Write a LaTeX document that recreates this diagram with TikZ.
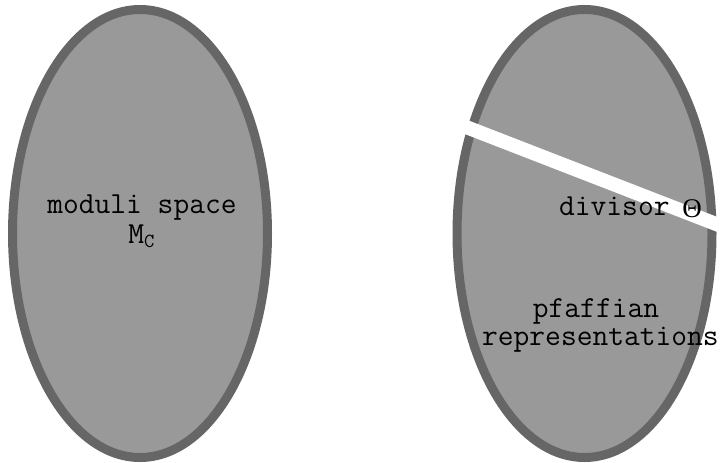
\documentclass[tikz,border=0pt]{standalone}
\usepackage{fontspec}
\newfontfamily\thetafont{Liberation Serif}
\usetikzlibrary{shapes.geometric}
\definecolor{rimgray}{HTML}{666666}
\definecolor{fillgray}{HTML}{999999}
\tikzset{
  blob/.style={ellipse, draw=rimgray, fill=fillgray, line width=9pt,
    minimum width=255pt, minimum height=448pt, inner sep=0pt},
  lbl/.style={font=\ttfamily\fontsize{30.6}{34}\selectfont, text=black, inner sep=0pt},
  band/.style={white, line width=14pt}
}
\begin{document}
\begin{tikzpicture}[x=1pt,y=-1pt]
\useasboundingbox (0,0) rectangle (723,463);
\clip (0,0) rectangle (723,463);
\node[blob] (left) at (140,233.5) {};
\node[blob] (right) at (584.5,233.5) {};
\coordinate (bandA) at (440,116.9);
\coordinate (bandB) at (730,229.4);
\draw[band] (bandA) -- (bandB);
\node[lbl, anchor=base] (mod) at (142,213) {moduli space};
\node[lbl, anchor=base] (mc) at (141.5,243) {M\raisebox{-4pt}{\fontsize{20}{20}\selectfont C}};
\node[lbl, anchor=base west] (div) at (559,215) {divisor};
\node[lbl, anchor=base] (theta) at (692,217.5) {\thetafont\fontsize{27}{30}\selectfont Θ};
\node[lbl, anchor=base] (pf) at (596,317) {pfaffian};
\node[lbl, anchor=base west] (rep) at (482,345) {representations};
\end{tikzpicture}
\end{document}
